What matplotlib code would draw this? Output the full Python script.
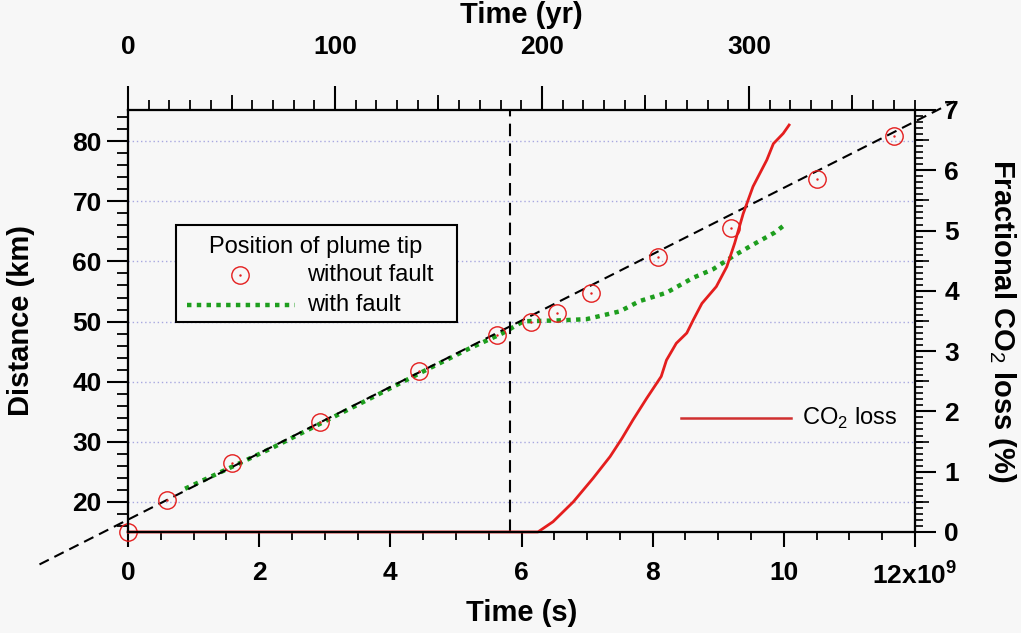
import numpy as np
import matplotlib
matplotlib.use('Agg')
import matplotlib.pyplot as plt
from matplotlib.patches import Rectangle
from matplotlib.ticker import MultipleLocator, FixedLocator, NullFormatter

plt.rcParams['font.family'] = ['Liberation Sans', 'DejaVu Sans']
plt.rcParams['mathtext.fontset'] = 'custom'
plt.rcParams['mathtext.rm'] = 'Liberation Sans'
plt.rcParams['mathtext.bf'] = 'Liberation Sans:bold'

# time in units of 1e9 s
sec_per_yr = 3.156e7

# plume tip without fault (circles)
t_nofault = [0.0, 0.6, 1.58, 2.93, 4.44, 5.63, 6.14, 6.54, 7.06, 8.08, 9.19, 10.5, 11.68]
d_nofault = [15.0, 20.3, 26.5, 33.3, 41.7, 47.8, 50.0, 51.5, 54.7, 60.7, 65.5, 73.7, 80.8]

# linear fit through the circles (dashed)
fit_t = [-1.35, 12.6]
fit_d = [9.6, 86.6]

# plume tip with fault (green dotted)
t_fault = [0.87, 1.5, 2.2, 3.0, 3.8, 4.5, 5.2, 5.7, 6.03, 6.59, 6.99, 7.5, 7.8,
           8.21, 8.62, 8.92, 9.23, 9.53, 9.86, 9.99]
d_fault = [22.2, 25.4, 29.0, 33.4, 37.8, 41.7, 45.5, 48.0, 50.05, 50.2, 50.4, 51.7, 53.4,
           54.8, 57.3, 58.7, 60.9, 62.8, 64.8, 65.9]

# time the fault is reached (vertical dashed)
t_break = 5.83

# fractional CO2 loss (%)
t_loss = [0.0, 6.25, 6.48, 6.79, 7.09, 7.35, 7.53, 7.70, 7.91, 8.13, 8.21, 8.36, 8.52,
          8.62, 8.75, 8.97, 9.13, 9.25, 9.38, 9.53, 9.74, 9.84, 9.99, 10.08]
loss = [0.0, 0.0, 0.17, 0.50, 0.89, 1.25, 1.55, 1.86, 2.22, 2.58, 2.85, 3.13, 3.30,
        3.52, 3.79, 4.07, 4.40, 4.79, 5.28, 5.73, 6.17, 6.44, 6.61, 6.75]

xticks = [0, 2, 4, 6, 8, 10, 12]
xticklabels = ['0', '2', '4', '6', '8', '10', r'12x10$^{\mathbf{9}}$']

bg = '#f7f7f7'
red = '#e41e1e'
green = '#1e9e1e'
grid_c = '#a8a8e0'

fig = plt.figure(figsize=(10.21, 6.33), dpi=100, facecolor=bg)
ax = fig.add_axes([0.1254, 0.1596, 0.7708, 0.6667])
ax.set_facecolor(bg)

ax.set_xlim(0, 12)
ax.set_ylim(15, 85.2)

for g in range(20, 90, 10):
    ax.axhline(g, color=grid_c, lw=1, ls=(0, (1, 2)), zorder=0)

ax.plot(fit_t, fit_d, color='black', lw=1.5, ls=(0, (5, 3)), clip_on=False, zorder=3)
ax.plot(t_fault, d_fault, color=green, lw=3.2, ls=(0, (1, 1.2)), zorder=2)
ax.plot(t_nofault, d_nofault, ls='none', marker='o', ms=12.5, mfc='none', mec=red,
        mew=1.0, clip_on=False, zorder=4)
ax.plot(t_nofault, d_nofault, ls='none', marker='.', ms=1.5, color=red, clip_on=False, zorder=4)
ax.axvline(t_break, color='black', lw=1.5, ls=(0, (6, 3.5)), zorder=3)

ax.set_xticks(xticks)
ax.set_xticklabels(xticklabels)
ax.xaxis.set_minor_locator(MultipleLocator(0.5))
ax.yaxis.set_major_locator(FixedLocator([20, 30, 40, 50, 60, 70, 80]))
ax.yaxis.set_minor_locator(MultipleLocator(2))
ax.tick_params(axis='x', which='major', direction='out', length=11, width=1.5, pad=10)
ax.tick_params(axis='x', which='minor', direction='out', length=6, width=1.3)
ax.tick_params(axis='y', which='major', direction='out', length=15, width=1.5, pad=4)
ax.tick_params(axis='y', which='minor', direction='out', length=8, width=1.3)
for lab in ax.get_xticklabels() + ax.get_yticklabels():
    lab.set_fontsize(19)
    lab.set_fontweight('bold')
ax.set_xlabel('Time (s)', fontsize=21, fontweight='bold')
ax.set_ylabel('Distance (km)', fontsize=21, fontweight='bold')
ax.xaxis.set_label_coords(0.5, -0.16)
ax.yaxis.set_label_coords(-0.118, 0.5)
for s in ax.spines.values():
    s.set_linewidth(1.5)

# right axis: CO2 loss
ax2 = ax.twinx()
ax2.set_ylim(0, 7)
ax2.plot(t_loss, loss, color=red, lw=2.0, clip_on=False, zorder=3)
ax2.yaxis.set_major_locator(MultipleLocator(1))
ax2.yaxis.set_minor_locator(MultipleLocator(0.1))
ax2.tick_params(axis='y', which='major', direction='out', length=15, width=1.5, pad=6)
ax2.tick_params(axis='y', which='minor', direction='out', length=6, width=1.2)
for lab in ax2.get_yticklabels():
    lab.set_fontsize(19)
    lab.set_fontweight('bold')
ax2.set_ylabel('Fractional CO$_2$ loss (%)', fontsize=21, fontweight='bold', rotation=270,
               labelpad=0)
ax2.yaxis.set_label_coords(1.131, 0.5)
ax2r = ax.twinx()
ax2r.set_ylim(0, 7)
ax2r.yaxis.set_major_locator(FixedLocator(np.arange(0.5, 7, 1.0)))
ax2r.yaxis.set_major_formatter(NullFormatter())
ax2r.tick_params(axis='y', direction='out', length=10, width=1.2)
for s in ax2r.spines.values():
    s.set_visible(False)

# top axis: years
ax3 = ax.twiny()
ax3.set_xlim(0, 12e9 / sec_per_yr)
ax3.xaxis.set_major_locator(MultipleLocator(100))
ax3.xaxis.set_minor_locator(MultipleLocator(10))
ax3.tick_params(axis='x', which='major', direction='out', length=17, width=1.5, pad=20)
ax3.tick_params(axis='x', which='minor', direction='out', length=7, width=1.3)
for lab in ax3.get_xticklabels():
    lab.set_fontsize(19)
    lab.set_fontweight('bold')
ax3.set_xlabel('Time (yr)', fontsize=21, fontweight='bold')
ax3.xaxis.set_label_coords(0.5, 1.205)
ax4 = ax.twiny()
ax4.set_xlim(0, 12e9 / sec_per_yr)
ax4.xaxis.set_major_locator(FixedLocator([50, 150, 250, 350]))
ax4.xaxis.set_major_formatter(NullFormatter())
ax4.tick_params(axis='x', direction='out', length=11, width=1.3)
for s in ax4.spines.values():
    s.set_visible(False)
for a in (ax2, ax3):
    for s in a.spines.values():
        s.set_linewidth(1.5)

# legend: plume tip
ax.add_patch(Rectangle((0.061, 0.4976), 0.357, 0.23, transform=ax.transAxes,
                       facecolor=bg, edgecolor='black', lw=1.5, zorder=5))
ax.text(0.239, 0.675, 'Position of plume tip', transform=ax.transAxes, fontsize=17,
        ha='center', va='center', zorder=6)
ax.plot([0.142], [0.609], transform=ax.transAxes, ls='none', marker='o', ms=12.5,
        mfc='none', mec=red, mew=1.0, zorder=6)
ax.plot([0.142], [0.609], transform=ax.transAxes, ls='none', marker='.', ms=1.5,
        color=red, zorder=6)
ax.text(0.2275, 0.609, 'without fault', transform=ax.transAxes, fontsize=17,
        ha='left', va='center', zorder=6)
ax.plot([0.075, 0.212], [0.538, 0.538], transform=ax.transAxes, color=green, lw=3.2,
        ls=(0, (1, 1.2)), zorder=6)
ax.text(0.2275, 0.538, 'with fault', transform=ax.transAxes, fontsize=17,
        ha='left', va='center', zorder=6)

# legend: CO2 loss
ax.plot([0.7027, 0.8424], [0.27, 0.27], transform=ax.transAxes, color='#d03030', lw=1.8, zorder=6)
ax.text(0.856, 0.27, 'CO$_2$ loss', transform=ax.transAxes, fontsize=17,
        ha='left', va='center', zorder=6)

fig.savefig('out.png', dpi=100, facecolor=bg)
